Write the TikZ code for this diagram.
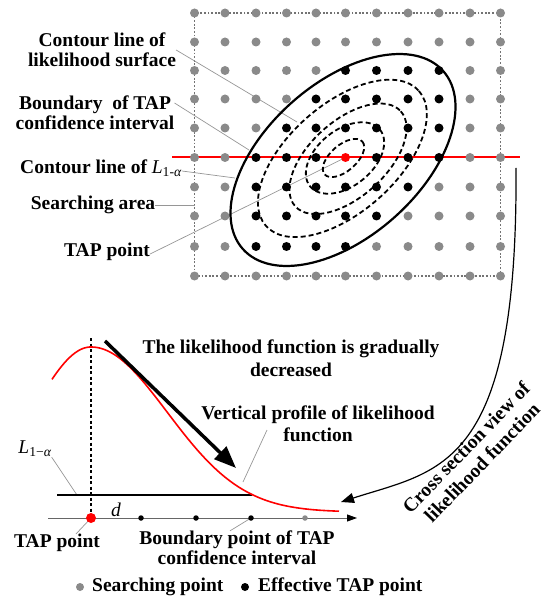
\documentclass[tikz,border=0pt]{standalone}
\usepackage{fontspec}
\setmainfont{Liberation Serif}
\usetikzlibrary{arrows.meta}
\definecolor{gpt}{RGB}{138,138,138}
\definecolor{leadgray}{RGB}{150,150,150}
\definecolor{rectgray}{RGB}{115,115,115}
\definecolor{tapred}{RGB}{255,0,0}
\newcommand\LoneAlpha[1]{{\mdseries\itshape L}\textsubscript{\mdseries #1{\itshape α}}}
\begin{document}
\begin{tikzpicture}[x=1pt,y=-1pt,
  lbl/.style={font=\bfseries\fontsize{19.5}{20}\selectfont, align=center, inner sep=0pt},
  lblB/.style={font=\bfseries\fontsize{19.5}{23}\selectfont, align=center, inner sep=0pt},
  lblC/.style={font=\bfseries\fontsize{19.5}{22}\selectfont, align=center, inner sep=0pt},
  gdot/.style={circle, fill=gpt, inner sep=0pt, minimum size=9pt},
  bdot/.style={gdot, fill=black},
  rdot/.style={gdot, fill=tapred},
  sdot/.style={circle, fill=black, inner sep=0pt, minimum size=5.5pt},
  lead/.style={draw=leadgray, line width=0.7pt},
  rectline/.style={draw=rectgray, line width=1.2pt, dash pattern=on 1.8pt off 1.8pt},
  sectionline/.style={draw=tapred, line width=2pt},
  outerell/.style={draw=black, line width=2.2pt},
  dashell/.style={draw=black, line width=1.8pt, dash pattern=on 5pt off 3pt},
]
\useasboundingbox (0,0) rectangle (544,601);

% ---------- grid positions ----------
\foreach \y [count=\j from 0] in {13,42,70.5,99,128,157.5,187,216,246.5,276}{
  \foreach \x [count=\i from 0] in {194.5,225,256,286.5,316,345.5,376.5,408,439,470,500.5}{
    \coordinate (q-\i-\j) at (\x,\y);
  }
}

% ---------- top labels ----------
\node[lbl] (t1) at (102,50) {Contour line of\\likelihood surface};
\node[lbl] (t2) at (95,113) {Boundary\ \ of TAP\\confidence interval};
\node[lbl] (t3) at (101,168) {Contour line of \LoneAlpha{1-}};
\node[lbl] (t4) at (93,205) {Searching area};
\node[lbl] (t5) at (107,252) {TAP point};
\coordinate (p1) at (297,122);
\coordinate (p2) at (249,150);
\coordinate (p3) at (235,178);
\coordinate (p4) at (194.5,205);

% frame, red section line and leaders (under the points)
\draw[rectline] (q-0-0) rectangle (q-10-9);
\coordinate (rl) at (172,157.5);
\coordinate (rr) at (520,157.5);
\path[sectionline] (rl) -- (rr);
\draw[lead] (t1.east) -- (p1);
\draw[lead] ([yshift=10pt]t2.east) -- (p2);
\draw[lead] ([yshift=-3pt]t3.east) -- (p3);
\draw[lead] (t4.east) -- (p4);
\draw[lead] ([yshift=-2pt]t5.east) -- (q-5-5);

% ---------- grid of points ----------
\foreach \j in {0,...,9}{
  \foreach \i in {0,...,10}{
    \pgfmathtruncatemacro\mn{{99,99,5,4,3,2,2,2,2,99}[\j]}
    \pgfmathtruncatemacro\mx{{-1,-1,8,8,8,8,7,6,5,-1}[\j]}
    \def\sty{bdot}
    \ifnum\i<\mn\relax \def\sty{gdot}\fi
    \ifnum\i>\mx\relax \def\sty{gdot}\fi
    \ifnum\i=5 \ifnum\j=5 \def\sty{rdot}\fi\fi
    \node[\sty] (g-\i-\j) at (q-\i-\j) {};
  }
}

% ---------- ellipses ----------
\draw[outerell, rotate around={41.6:(343,160)}] (343,160) ellipse [x radius=134, y radius=77];
\draw[dashell, rotate around={41.4:(342.4,158.4)}] (342.4,158.4) ellipse [x radius=102, y radius=54];
\draw[dashell, rotate around={42:(348,158.8)}] (348,158.8) ellipse [x radius=71, y radius=38];
\draw[dashell, rotate around={39:(345,158)}] (345,158) ellipse [x radius=45, y radius=28];
\draw[dashell, rotate around={41:(343.5,158)}] (343.5,158) ellipse [x radius=25, y radius=13];

% ---------- cross-section arrow ----------
\coordinate (cs0) at (516,168);
\coordinate (cs1) at (341,502);
\draw[line width=1.2pt, -{Triangle[length=13pt,width=10pt]}] (cs0) .. controls (518,470) and (440,470) .. (cs1);
\node[lblC, rotate=46] (cs) at (474,455) {Cross section view of\\likelihood function};

% ---------- profile ----------
\node[font=\fontsize{19.5}{20}\selectfont, inner sep=0pt] (lb) at (35,449) {\LoneAlpha{1−}};
\node[font=\itshape\fontsize{19.5}{20}\selectfont, inner sep=0pt] (dl) at (116,510) {d};
\node[lblB] (b1) at (291,358.5) {The likelihood function is gradually\\decreased};
\node[lblC] (b2) at (318,424) {Vertical profile of likelihood\\function};
\node[lbl] (b3) at (57,543) {TAP point};
\node[lbl] (b4) at (237,548) {Boundary point of TAP\\confidence interval};

\coordinate (ax0) at (48,518);
\coordinate (ax1) at (357,518);
\coordinate (a0c) at (91,518);
\coordinate (a3c) at (251,518);
\coordinate (lbe) at (77,495);
\coordinate (b2s) at (267,430);
\coordinate (b2e) at (243,482);
\draw[lead] (lb.south east) -- (lbe);
\draw[lead] (b2s) -- (b2e);
\draw[lead] ([xshift=19pt]b3.north) -- (a0c);
\draw[lead] ([xshift=-7pt]b4.north) -- (a3c);

\draw[draw=black!60, line width=0.9pt, -{Triangle[length=10pt,width=7pt,color=black]}] (ax0) -- (ax1);
\coordinate (pk) at (91,338);
\draw[line width=1.2pt, dash pattern=on 3pt off 2.5pt] (pk) -- (a0c);
\node[circle, fill=tapred, inner sep=0pt, minimum size=10pt] (a0) at (a0c) {};
\node[sdot] (a1) at (141,518) {};
\node[sdot] (a2) at (196,518) {};
\node[sdot] (a3) at (a3c) {};
\node[sdot, fill=gpt] (a4) at (305,518) {};

\coordinate (l0) at (57,495);
\coordinate (l1) at (252,495);
\draw[line width=1.8pt] (l0) -- (l1);

\draw[tapred, line width=1.6pt] plot[domain=52:91, samples=30] (\x,{512-165*exp(-0.5*((\x-91)/59)^2)})
  -- plot[domain=91:339, samples=90] (\x,{512-165*exp(-0.5*((\x-91)/76)^2)});

\coordinate (ka) at (105,341);
\coordinate (kb) at (236,468);
\draw[line width=3.5pt, -{Triangle[length=22pt,width=17pt]}] (ka) -- (kb);

% ---------- legend ----------
\node[gdot, minimum size=8pt] (lg1) at (80,587) {};
\node[lbl, anchor=west] (lt1) at (92,587) {Searching point};
\node[bdot, minimum size=8pt] (lg2) at (245,587) {};
\node[lbl, anchor=west] (lt2) at (258,587) {Effective TAP point};
\end{tikzpicture}
\end{document}
